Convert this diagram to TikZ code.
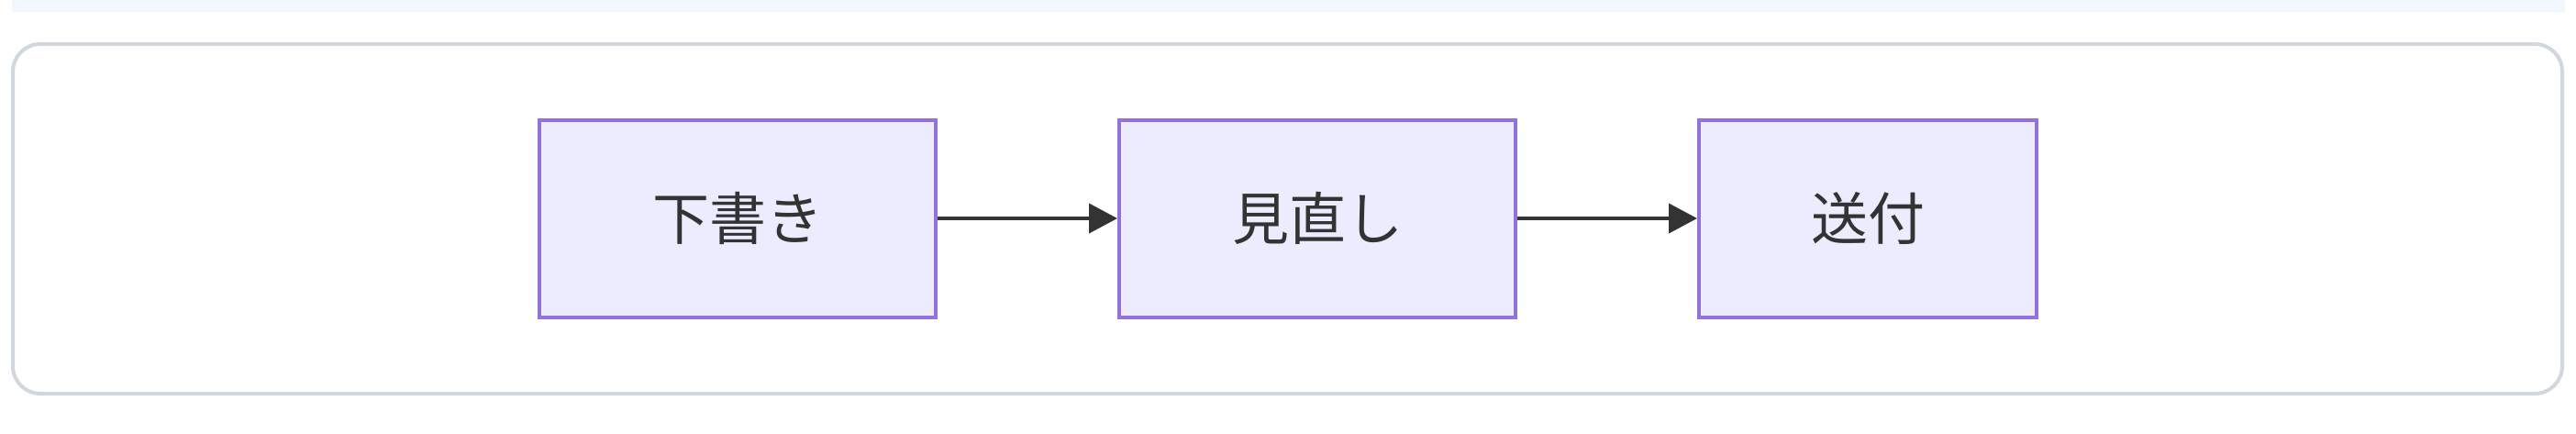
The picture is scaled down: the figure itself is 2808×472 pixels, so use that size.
\documentclass[tikz,border=0pt]{standalone}
\usepackage{fontspec}
\newfontfamily\jpfont{Noto Sans CJK JP}
\usetikzlibrary{arrows.meta}
\definecolor{stepfill}{HTML}{ECECFF}
\definecolor{stepline}{HTML}{9370DB}
\definecolor{textgray}{HTML}{333333}
\definecolor{frameline}{HTML}{D0D7DE}
\definecolor{stripfill}{HTML}{F0F7FE}
\tikzset{
  stepbox/.style={draw=stepline, fill=stepfill, line width=4pt,
    minimum height=215pt, inner sep=0pt, text=textgray,
    font=\jpfont\fontsize{62pt}{74pt}\selectfont},
  flowarrow/.style={draw=textgray, line width=4pt,
    -{Triangle[length=31pt,width=32pt]}},
}
\begin{document}
\begin{tikzpicture}[x=1pt,y=-1pt]
\useasboundingbox (0,0) rectangle (2808,472);
\fill[stripfill] (13,0) rectangle (2796,13);
\draw[frameline, line width=4pt, rounded corners=30pt] (14,48) rectangle (2793,429);
\node[stepbox, minimum width=432pt] (draft) at (804,238) {下書き};
\node[stepbox, minimum width=432pt] (review) at (1436,238) {見直し};
\node[stepbox, minimum width=368pt] (send) at (2036,238) {送付};
\draw[flowarrow] (draft.east) -- (review.west);
\draw[flowarrow] (review.east) -- (send.west);
\end{tikzpicture}
\end{document}
